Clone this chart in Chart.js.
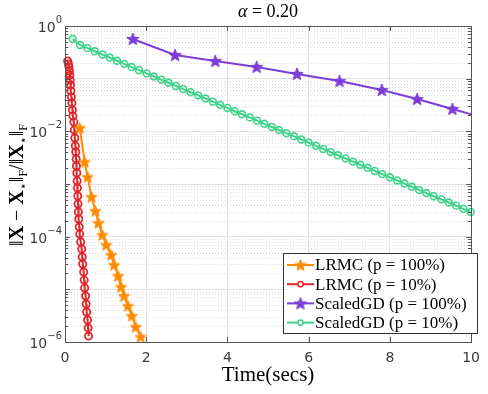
<!DOCTYPE html>
<html>
<head>
<meta charset="utf-8">
<script src="https://cdn.jsdelivr.net/npm/chart.js@4.4.1/dist/chart.umd.min.js"></script>
<style>
  body { margin: 0; background: #fff; }
  #wrap { width: 488px; height: 394px; }
</style>
</head>
<body>
<div id="wrap"><canvas id="errChart" width="488" height="394"></canvas></div>
<script>
// Values (time in secs, relative error)
const lrmcFullTime = [0.363, 0.484, 0.557, 0.654, 0.751, 0.823, 0.920, 1.017, 1.138, 1.211, 1.308, 1.380, 1.453, 1.550, 1.646, 1.743, 1.864];
const lrmcFullErr = [0.0116, 0.00262, 0.00136, 0.000567, 0.000307, 0.000182, 0.000108, 6.95e-5, 4.49e-5, 2.90e-5, 1.79e-5, 1.11e-5, 7.48e-6, 4.83e-6, 3.12e-6, 1.93e-6, 1.25e-6];

const lrmcTenTime = [0.065, 0.085, 0.097, 0.109, 0.121, 0.128, 0.138, 0.145, 0.157, 0.169, 0.182, 0.194, 0.218, 0.230, 0.242, 0.254, 0.266, 0.274, 0.281, 0.291, 0.298, 0.305, 0.315, 0.322, 0.329, 0.339, 0.351, 0.363, 0.387, 0.412, 0.424, 0.436, 0.460, 0.472, 0.484, 0.508, 0.521, 0.533, 0.557, 0.569, 0.581];
const lrmcTenErr = [0.216, 0.190, 0.167, 0.140, 0.117, 0.0944, 0.0759, 0.0583, 0.0449, 0.0345, 0.0254, 0.0196, 0.0150, 0.0106, 0.00747, 0.00527, 0.00405, 0.00299, 0.00220, 0.00162, 0.00114, 0.000839, 0.000592, 0.000417, 0.000294, 0.000217, 0.000153, 0.000112, 7.93e-5, 5.83e-5, 4.11e-5, 3.03e-5, 2.13e-5, 1.50e-5, 1.06e-5, 7.48e-6, 5.27e-6, 3.72e-6, 2.62e-6, 1.85e-6, 1.30e-6];

const sgdFullTime = [1.67, 2.71, 3.70, 4.72, 5.71, 6.76, 7.80, 8.67, 9.54, 10.5];
const sgdFullErr = [0.567, 0.281, 0.216, 0.167, 0.123, 0.0903, 0.0610, 0.0411, 0.0266, 0.0164];

const sgdTenTime = [0.19, 0.37, 0.55, 0.73, 0.92, 1.10, 1.28, 1.46, 1.64, 1.82, 2.01, 2.19, 2.37, 2.55, 2.73, 2.91, 3.09, 3.28, 3.46, 3.64, 3.82, 4.00, 4.18, 4.36, 4.55, 4.73, 4.91, 5.09, 5.27, 5.45, 5.64, 5.82, 6.00, 6.18, 6.36, 6.54, 6.72, 6.91, 7.09, 7.27, 7.45, 7.63, 7.81, 8.00, 8.18, 8.36, 8.54, 8.72, 8.90, 9.08, 9.27, 9.45, 9.63, 9.81, 9.99];
const sgdTenErr = [0.566, 0.436, 0.380, 0.331, 0.288, 0.252, 0.219, 0.191, 0.166, 0.145, 0.126, 0.110, 0.0959, 0.0836, 0.0728, 0.0634, 0.0553, 0.0482, 0.0420, 0.0366, 0.0319, 0.0278, 0.0241, 0.0211, 0.0184, 0.0160, 0.0139, 0.0121, 0.0106, 0.00922, 0.00804, 0.00700, 0.00610, 0.00531, 0.00463, 0.00403, 0.00351, 0.00306, 0.00266, 0.00232, 0.00203, 0.00177, 0.00154, 0.00134, 0.00117, 0.00102, 0.000886, 0.000772, 0.000673, 0.000586, 0.000511, 0.000445, 0.000388, 0.000338, 0.000295];

const seriesLabels = ['LRMC (p = 100%)', 'LRMC (p = 10%)', 'ScaledGD (p = 100%)', 'ScaledGD (p = 10%)'];
const xTickValues = [0, 2, 4, 6, 8, 10];
const yDecadeExps = [0, -2, -4, -6];

const ORANGE = '#ff8a00', RED = '#e0262b', PURPLE = '#7b3fd8', GREEN = '#3ed28c';
const SERIF = '"Liberation Serif", "DejaVu Serif", serif';
const SANS = '"DejaVu Sans", sans-serif';

const pairs = (xs, ys) => xs.map((x, i) => ({ x: x, y: ys[i] }));

// filled five-point star marker
function starMarker(color, r) {
    const c = document.createElement('canvas');
    const s = Math.ceil(r * 2 + 3);
    c.width = c.height = s;
    const g = c.getContext('2d');
    g.beginPath();
    for (let i = 0; i < 10; i++) {
        const a = -Math.PI / 2 + i * Math.PI / 5;
        const rad = i % 2 ? r * 0.42 : r;
        const px = s / 2 + rad * Math.cos(a), py = s / 2 + 0.5 + rad * Math.sin(a);
        if (i === 0) g.moveTo(px, py); else g.lineTo(px, py);
    }
    g.closePath();
    g.fillStyle = color;
    g.fill();
    g.lineWidth = 1;
    g.strokeStyle = color;
    g.stroke();
    return c;
}

const orangeStar = starMarker(ORANGE, 6);
const purpleStar = starMarker(PURPLE, 6.5);

// MATLAB-ish frame: minor dotted grid, inside ticks, box, titles, tick labels, legend
const matlabFrame = {
    id: 'matlabFrame',
    beforeDatasetsDraw(chart) {
        const { ctx, chartArea: a, scales: { y } } = chart;
        ctx.save();
        ctx.strokeStyle = '#d9d9d9';
        ctx.lineWidth = 1;
        ctx.setLineDash([1, 2]);
        for (let e = -6; e < 0; e++) {
            for (let k = 2; k <= 9; k++) {
                const py = Math.round(y.getPixelForValue(k * Math.pow(10, e))) + 0.5;
                ctx.beginPath();
                ctx.moveTo(a.left, py);
                ctx.lineTo(a.right, py);
                ctx.stroke();
            }
        }
        ctx.restore();
    },
    afterDraw(chart) {
        const { ctx, chartArea: a, scales: { x, y } } = chart;
        ctx.save();
        // box + ticks
        ctx.strokeStyle = '#555';
        ctx.lineWidth = 1;
        ctx.beginPath();
        for (let e = -6; e <= 0; e++) {
            for (let k = 1; k <= 9; k++) {
                const v = k * Math.pow(10, e);
                if (v > 1) break;
                const len = k === 1 ? 5 : 3;
                const py = Math.round(y.getPixelForValue(v)) + 0.5;
                ctx.moveTo(a.left, py); ctx.lineTo(a.left + len, py);
                ctx.moveTo(a.right, py); ctx.lineTo(a.right - len, py);
            }
        }
        xTickValues.forEach(v => {
            const px = Math.round(x.getPixelForValue(v)) + 0.5;
            ctx.moveTo(px, a.bottom); ctx.lineTo(px, a.bottom - 5);
            ctx.moveTo(px, a.top); ctx.lineTo(px, a.top + 5);
        });
        ctx.stroke();
        ctx.strokeRect(Math.round(a.left) + 0.5, Math.round(a.top) + 0.5, Math.round(a.right - a.left), Math.round(a.bottom - a.top));

        // y tick labels 10^n
        ctx.fillStyle = '#3a3a3a';
        ctx.textBaseline = 'alphabetic';
        yDecadeExps.forEach(e => {
            const py = y.getPixelForValue(Math.pow(10, e));
            const sup = e === 0 ? '0' : '\u2212' + (-e);
            ctx.font = '10px ' + SANS;
            const supW = ctx.measureText(sup).width;
            ctx.font = '14px ' + SANS;
            const baseW = ctx.measureText('10').width;
            const right = a.left - 3;
            ctx.textAlign = 'left';
            ctx.fillText('10', right - supW - baseW, py + 6);
            ctx.font = '10px ' + SANS;
            ctx.fillText(sup, right - supW, py - 3);
        });

        // title
        ctx.fillStyle = '#000';
        ctx.font = 'italic 18px ' + SERIF;
        const tA = ctx.measureText('\u03b1').width;
        ctx.font = '18px ' + SERIF;
        const tRest = ' = 0.20';
        const tW = tA + ctx.measureText(tRest).width;
        const tx = (a.left + a.right) / 2 - tW / 2;
        ctx.font = 'italic 18px ' + SERIF;
        ctx.fillText('\u03b1', tx, 17);
        ctx.font = '18px ' + SERIF;
        ctx.fillText(tRest, tx + tA, 17);

        // x axis title
        ctx.font = '21px ' + SERIF;
        ctx.textAlign = 'center';
        ctx.fillText('Time(secs)', (a.left + a.right) / 2, 381);

        // y axis title, rotated, with bold X and subscripts
        const segs = [['\u2016', 'n'], ['X', 'b'], [' \u2212 ', 'n'], ['X', 'b'], ['\u22c6', 's'], ['\u2016', 'n'], ['F', 's'],
                      ['/', 'n'], ['\u2016', 'n'], ['X', 'b'], ['\u22c6', 's'], ['\u2016', 'n'], ['F', 's']];
        const fontFor = t => t === 'b' ? 'bold 20px ' + SERIF : (t === 's' ? '12px ' + SERIF : '20px ' + SERIF);
        let total = 0;
        segs.forEach(s => { ctx.font = fontFor(s[1]); total += ctx.measureText(s[0]).width; });
        ctx.translate(23, (a.top + a.bottom) / 2 + 1);
        ctx.rotate(-Math.PI / 2);
        ctx.textAlign = 'left';
        let cx = -total / 2;
        segs.forEach(s => {
            ctx.font = fontFor(s[1]);
            ctx.fillText(s[0], cx, s[1] === 's' ? 4 : 0);
            cx += ctx.measureText(s[0]).width;
        });
        ctx.restore();

        // legend box in lower right
        ctx.save();
        const lx = 283, ly = 253, lw = 195, lh = 81;
        ctx.fillStyle = '#fff';
        ctx.fillRect(lx, ly, lw, lh);
        ctx.strokeStyle = '#333';
        ctx.lineWidth = 1;
        ctx.strokeRect(lx + 0.5, ly + 0.5, lw - 1, lh - 1);
        chart.data.datasets.forEach((ds, i) => {
            const ry = ly + 12 + i * 19.2;
            ctx.strokeStyle = ds.borderColor;
            ctx.lineWidth = 2;
            ctx.beginPath();
            ctx.moveTo(lx + 4, ry); ctx.lineTo(lx + 31, ry);
            ctx.stroke();
            if (typeof ds.pointStyle === 'object') {
                ctx.drawImage(ds.pointStyle, lx + 17.5 - ds.pointStyle.width / 2, ry - ds.pointStyle.height / 2);
            } else {
                ctx.lineWidth = 1.5;
                ctx.fillStyle = '#fff';
                ctx.beginPath();
                ctx.arc(lx + 17.5, ry, 2.6, 0, Math.PI * 2);
                ctx.fill();
                ctx.stroke();
            }
            ctx.fillStyle = '#000';
            ctx.font = '17px ' + SERIF;
            ctx.textAlign = 'left';
            ctx.textBaseline = 'middle';
            ctx.fillText(ds.label, lx + 32, ry + 1);
        });
        ctx.restore();
    }
};

const ctx = document.getElementById('errChart').getContext('2d');
const errChart = new Chart(ctx, {
    type: 'line',
    data: {
        datasets: [
            {
                label: seriesLabels[0],
                data: pairs(lrmcFullTime, lrmcFullErr),
                borderColor: ORANGE,
                borderWidth: 2,
                pointStyle: orangeStar,
                pointRadius: 6,
                clip: false
            },
            {
                label: seriesLabels[1],
                data: pairs(lrmcTenTime, lrmcTenErr),
                borderColor: RED,
                borderWidth: 2,
                pointStyle: 'circle',
                pointRadius: 3.6,
                pointBorderWidth: 1.8,
                pointBorderColor: RED,
                pointBackgroundColor: 'rgba(0,0,0,0)',
                clip: false
            },
            {
                label: seriesLabels[2],
                data: pairs(sgdFullTime, sgdFullErr),
                borderColor: PURPLE,
                borderWidth: 2,
                pointStyle: purpleStar,
                pointRadius: 6
            },
            {
                label: seriesLabels[3],
                data: pairs(sgdTenTime, sgdTenErr),
                borderColor: GREEN,
                borderWidth: 2,
                pointStyle: 'circle',
                pointRadius: 3.4,
                pointBorderWidth: 1.6,
                pointBorderColor: GREEN,
                pointBackgroundColor: 'rgba(0,0,0,0)',
                clip: false
            }
        ]
    },
    options: {
        responsive: false,
        animation: false,
        devicePixelRatio: 1,
        layout: { autoPadding: false, padding: { left: 0, right: 10, top: 26, bottom: 0 } },
        plugins: { legend: { display: false }, tooltip: { enabled: false } },
        elements: { line: { tension: 0 } },
        scales: {
            x: {
                type: 'linear',
                min: 0,
                max: 10,
                afterBuildTicks: s => { s.ticks = xTickValues.map(v => ({ value: v })); },
                ticks: { color: '#3a3a3a', font: { family: 'DejaVu Sans', size: 14 }, padding: 8, maxRotation: 0, autoSkip: false },
                grid: {
                    color: c => (c.tick && (c.tick.value === 0 || c.tick.value === 10)) ? 'rgba(0,0,0,0)' : '#e2e2e2',
                    drawTicks: false
                },
                border: { display: false },
                afterFit: s => { s.height = 52; }
            },
            y: {
                type: 'logarithmic',
                min: 1e-6,
                max: 1,
                ticks: { display: false },
                grid: {
                    color: c => {
                        if (!c.tick) return 'rgba(0,0,0,0)';
                        const l = Math.log10(c.tick.value);
                        return Math.abs(l - Math.round(l)) < 1e-9 && l > -6 && l < 0 ? '#e2e2e2' : 'rgba(0,0,0,0)';
                    },
                    drawTicks: false
                },
                border: { display: false },
                afterFit: s => { s.width = 65; }
            }
        }
    },
    plugins: [matlabFrame]
});
</script>
</body>
</html>
